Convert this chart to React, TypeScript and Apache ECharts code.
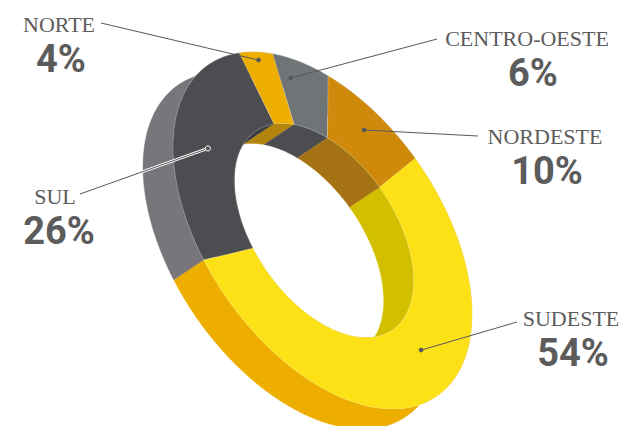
import React, { useEffect, useRef } from "react";
import * as echarts from "echarts";

// Regional shares, in percent
const regions = ["SUDESTE", "SUL", "NORTE", "CENTRO-OESTE", "NORDESTE"];
const shares = [54, 26, 4, 6, 10];

// Slice colours: top face, outer wall, inner wall
const faceColors = ["#FBE116", "#4C4D51", "#EEAE00", "#6F7477", "#CF8A0B"];
const outerWallColors = ["#EEAE00", "#78767A", "#B3850F", "#4C4D51", "#A57314"];
const innerWallColors = ["#D2C000", "#3E3F42", "#B3850F", "#4C4D51", "#A57314"];

// Tilted ring: an affine image of a circle, extruded along a fixed offset
const ring = {
  cx: 322.5,
  cy: 230.5,
  ax: 149.5,
  ay: 83.6,
  by: 157.7,
  inner: 0.6,
  innerShiftX: 1.5,
  depthX: -30,
  depthY: 20,
  startDeg: -51.8,
};

// Where each leader line touches its slice, and where it ends near its caption
const leaders = [
  { along: 0.43, radius: 0.776, endX: 517, endY: 322 },
  { along: 0.49, radius: 0.775, endX: 80, endY: 194, halo: true },
  { along: 0.5, radius: 0.955, endX: 101, endY: 23 },
  { along: 0.25, radius: 0.88, endX: 437, endY: 39 },
  { along: 0.48, radius: 0.832, endX: 478, endY: 136 },
];

// Caption placement, in the same order as the regions: centre of the name and of the percentage
const captions = [
  { nameX: 571, nameY: 318, valueX: 573, valueY: 353 },
  { nameX: 55, nameY: 196, valueX: 59, valueY: 231 },
  { nameX: 59, nameY: 24, valueX: 61, valueY: 59 },
  { nameX: 527, nameY: 38, valueX: 533, valueY: 73 },
  { nameX: 545, nameY: 136, valueX: 547, valueY: 171 },
];

const total = shares.reduce((a, b) => a + b, 0);

function sliceRange(i: number): [number, number] {
  let before = 0;
  for (let k = 0; k < i; k++) before += shares[k];
  const from = ring.startDeg + (before / total) * 360;
  return [from, from + (shares[i] / total) * 360];
}

function pointAt(deg: number, r: number, dx = 0, dy = 0): [number, number] {
  const t = (deg * Math.PI) / 180;
  return [
    ring.cx + r * ring.ax * Math.cos(t) + dx,
    ring.cy + r * (ring.ay * Math.cos(t) + ring.by * Math.sin(t)) + dy,
  ];
}

function arc(from: number, to: number, r: number, dx = 0, dy = 0) {
  const steps = Math.max(2, Math.ceil((to - from) / 1.5));
  const pts: [number, number][] = [];
  for (let s = 0; s <= steps; s++) {
    pts.push(pointAt(from + ((to - from) * s) / steps, r, dx, dy));
  }
  return pts;
}

function wall(i: number, r: number, shiftX = 0) {
  const [a, b] = sliceRange(i);
  return arc(a, b, r, shiftX).concat(arc(a, b, r, ring.depthX + shiftX, ring.depthY).reverse());
}

function face(i: number) {
  const [a, b] = sliceRange(i);
  return arc(a, b, 1).concat(arc(a, b, ring.inner, ring.innerShiftX).reverse());
}

const polygonItem = (points: [number, number][], fill: string, stroke: string, lineWidth: number) => ({
  type: "polygon",
  shape: { points },
  style: { fill, stroke, lineWidth },
});

const seriesData = shares.map((v, i) => ({ name: regions[i], value: [v] }));

const layer = (z: number, renderItem: (params: any) => any) => ({
  type: "custom",
  coordinateSystem: "none",
  silent: true,
  z,
  data: seriesData,
  renderItem,
});

const LINE = "#58585A";
const TEXT = "#5C5C5C";

export default function App() {
  const ref = useRef<HTMLDivElement>(null);

  useEffect(() => {
    const chart = echarts.init(ref.current!, undefined, { renderer: "svg" });
    chart.setOption({
      animation: false,
      backgroundColor: "#ffffff",
      series: [
        layer(1, (p) => {
          const c = outerWallColors[p.dataIndex];
          return polygonItem(wall(p.dataIndex, 1), c, c, 0.4);
        }),
        layer(2, (p) => {
          const c = innerWallColors[p.dataIndex];
          return polygonItem(wall(p.dataIndex, ring.inner, ring.innerShiftX), c, c, 0.4);
        }),
        layer(3, (p) =>
          polygonItem(face(p.dataIndex), faceColors[p.dataIndex], "rgba(255,255,255,0.3)", 0.6)
        ),
        layer(4, (p) => {
          const i = p.dataIndex;
          const lead = leaders[i];
          const [a, b] = sliceRange(i);
          const [x, y] = pointAt(a + (b - a) * lead.along, lead.radius);
          const segment = { x1: x, y1: y, x2: lead.endX, y2: lead.endY };
          const children: any[] = [];
          if (lead.halo) {
            children.push({ type: "line", shape: segment, style: { stroke: "#ffffff", lineWidth: 2.8 } });
          }
          children.push({ type: "line", shape: segment, style: { stroke: LINE, lineWidth: 1 } });
          children.push({
            type: "circle",
            shape: { cx: x, cy: y, r: lead.halo ? 2.6 : 2.3 },
            style: lead.halo
              ? { fill: LINE, stroke: "#ffffff", lineWidth: 1 }
              : { fill: LINE },
          });
          return { type: "group", children };
        }),
      ],
      graphic: captions.flatMap((c, i) => [
        {
          type: "text",
          x: c.nameX,
          y: c.nameY,
          style: {
            text: regions[i],
            fill: TEXT,
            font: '22px "Liberation Serif"',
            lineHeight: 18,
            align: "center",
            verticalAlign: "middle",
          },
        },
        {
          type: "text",
          x: c.valueX,
          y: c.valueY,
          style: {
            text: `${shares[i]}%`,
            fill: TEXT,
            font: 'bold 38px Roboto',
            lineHeight: 28,
            align: "center",
            verticalAlign: "middle",
          },
        },
      ]),
    });
    return () => chart.dispose();
  }, []);

  return (
    <div
      ref={ref}
      style={{ position: "absolute", left: 0, top: 0, width: 621, height: 426 }}
    />
  );
}
